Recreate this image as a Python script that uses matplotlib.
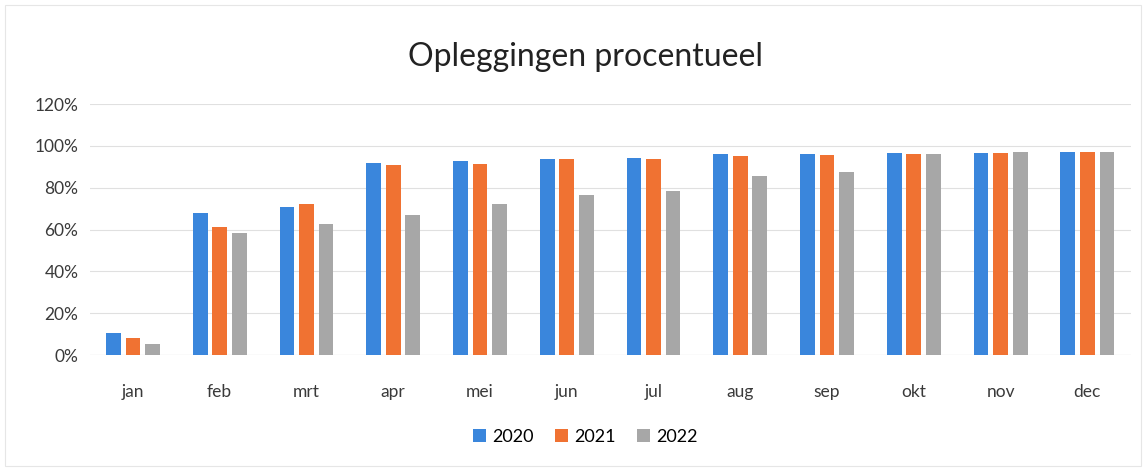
import numpy as np
import matplotlib.pyplot as plt
from matplotlib.ticker import FuncFormatter

plt.rcParams['font.family'] = ['Lato', 'DejaVu Sans']

months = ['jan', 'feb', 'mrt', 'apr', 'mei', 'jun', 'jul', 'aug', 'sep', 'okt', 'nov', 'dec']
years = ['2020', '2021', '2022']
vals_2020 = [10.4, 68.1, 70.7, 91.7, 93.0, 93.9, 94.4, 96.0, 96.3, 96.5, 96.7, 97.3]
vals_2021 = [8.0, 61.4, 72.2, 91.1, 91.4, 93.9, 93.6, 95.4, 95.7, 96.2, 96.6, 97.3]
vals_2022 = [5.1, 58.5, 62.7, 67.0, 72.2, 76.6, 78.5, 85.6, 87.7, 96.2, 97.1, 97.3]
colors = ['#3a86dc', '#f07232', '#a7a7a7']

fig = plt.figure(figsize=(11.48, 4.71), dpi=100)
ax = fig.add_axes([0.078, 0.246, 0.907, 0.533])

x = np.arange(len(months))
w = 0.17
step = 0.225
for i, (vals, c, lab) in enumerate(zip([vals_2020, vals_2021, vals_2022], colors, years)):
    ax.bar(x + (i - 1) * step, vals, width=w, color=c, label=lab, zorder=3)

ax.set_xlim(-0.5, len(months) - 0.5)
ax.set_ylim(0, 120)
ax.set_yticks(np.arange(0, 121, 20))
ax.yaxis.set_major_formatter(FuncFormatter(lambda v, p: f'{int(v)}%'))
ax.set_xticks(x)
ax.set_xticklabels(months)
ax.tick_params(axis='both', length=0, labelsize=12.5, colors='#3a3a3a')
ax.tick_params(axis='x', pad=21)
ax.tick_params(axis='y', pad=8)
ax.grid(axis='y', color='#e0e0e0', linewidth=0.8, zorder=0)
for s in ax.spines.values():
    s.set_visible(False)
ax.axhline(0, color='#d8d8d8', linewidth=0.8, zorder=1)

fig.text(0.51, 0.878, 'Opleggingen procentueel', ha='center', va='center',
         fontsize=23, color='#222222')

fig.legend(loc='center', bbox_to_anchor=(0.51, 0.072), ncol=3, frameon=False,
           fontsize=13, handlelength=0.7, handleheight=0.7, handletextpad=0.35,
           columnspacing=1.2)

fig.patches.append(plt.Rectangle((0.004, 0.01), 0.99, 0.98, transform=fig.transFigure,
                                 fill=False, edgecolor='#e6e6e6', linewidth=0.8))

fig.savefig('out.png', dpi=100)
